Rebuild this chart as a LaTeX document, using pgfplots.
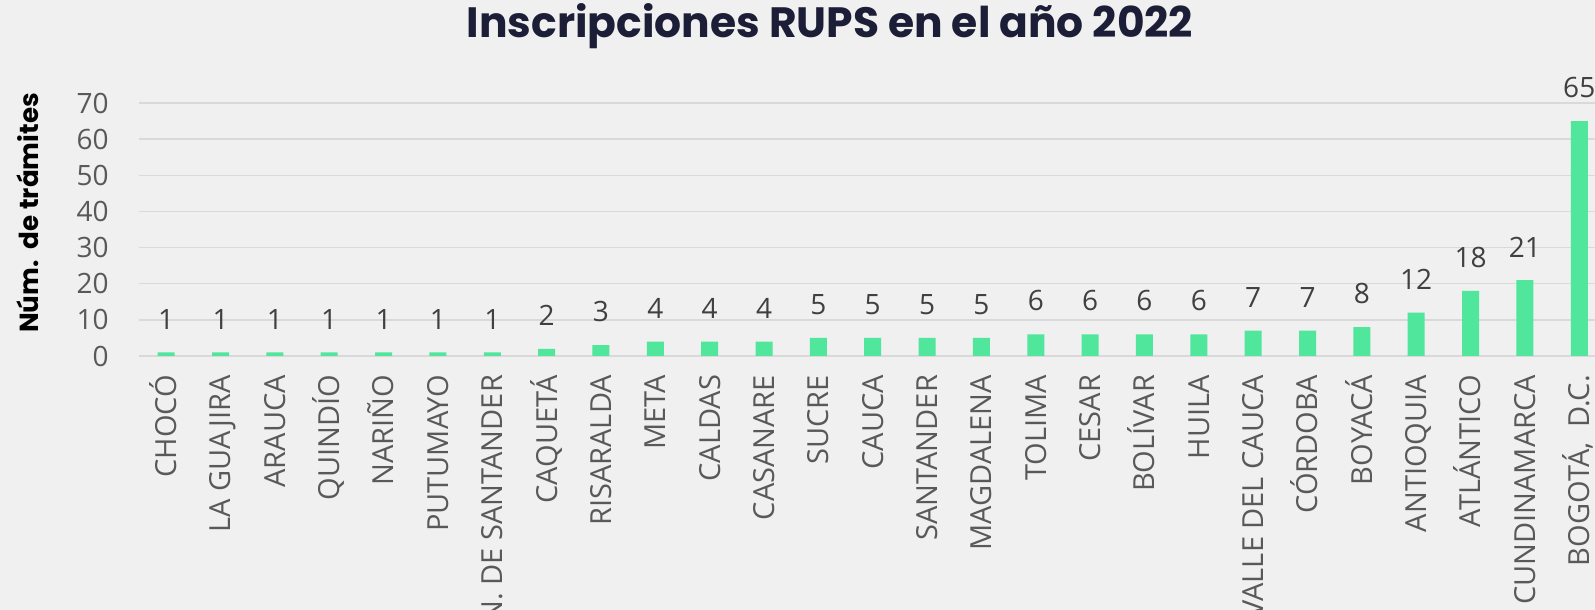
\documentclass[border=0pt]{standalone}
\usepackage{pgfplots}
\pgfplotsset{compat=1.18}
\usepackage{fontspec}
\setmainfont{Open Sans}
\newfontfamily\poppins{Poppins}
\definecolor{bg}{HTML}{F0F0F0}
\definecolor{barc}{HTML}{50E69C}
\definecolor{gridc}{HTML}{D9D9D9}
\definecolor{tickc}{HTML}{595959}
\definecolor{labc}{HTML}{404040}
\definecolor{titc}{HTML}{1B1E36}
\begin{document}
\begin{tikzpicture}
\fill[bg] (0,0) rectangle (797.5pt,305pt);
\clip (0,0) rectangle (797.5pt,305pt);
\node[anchor=base, font=\poppins\bfseries\fontsize{21.2}{24}\selectfont, text=titc] at (415pt,286.2pt) {Inscripciones RUPS en el año 2022};
\node[rotate=90, font=\poppins\bfseries\fontsize{13.1}{15}\selectfont, text=black] at (13.75pt,198.5pt) {Núm.\ \ de trámites};
\begin{axis}[
  at={(69.5pt,127pt)}, anchor=south west,
  scale only axis, width=728pt, height=126.5pt,
  xmin=-0.5, xmax=26.29, ymin=0, ymax=70,
  axis line style={draw=none},
  ytick={0,10,...,70},
  ymajorgrids, grid style={gridc, line width=0.75pt},
  major tick length=0pt,
  xtick={0,...,26},
  xticklabels={CHOCÓ,LA GUAJIRA,ARAUCA,QUINDÍO,NARIÑO,PUTUMAYO,N. DE SANTANDER,CAQUETÁ,RISARALDA,META,CALDAS,CASANARE,SUCRE,CAUCA,SANTANDER,MAGDALENA,TOLIMA,CESAR,BOLÍVAR,HUILA,VALLE DEL CAUCA,CÓRDOBA,BOYACÁ,ANTIOQUIA,ATLÁNTICO,CUNDINAMARCA,{BOGOTÁ,\ \ D.C.}},
  xticklabel style={rotate=90, anchor=east, font=\fontsize{14.5}{17}\selectfont, text=tickc, text height=10.4pt, text depth=0pt, xshift=-6pt},
  yticklabel style={font=\fontsize{14}{16}\selectfont, text=tickc, xshift=-11.7pt},
  /pgf/number format/assume math mode=true,
  ybar, bar width=8.5pt,
  nodes near coords,
  every node near coord/.append style={font=\fontsize{14}{16}\selectfont, text=labc, yshift=8pt},
  clip=false,
]
\addplot[fill=barc, draw=none] coordinates {
(0,1) (1,1) (2,1) (3,1) (4,1) (5,1) (6,1) (7,2) (8,3) (9,4) (10,4) (11,4) (12,5) (13,5) (14,5) (15,5) (16,6) (17,6) (18,6) (19,6) (20,7) (21,7) (22,8) (23,12) (24,18) (25,21) (26,65)
};
\end{axis}
\end{tikzpicture}
\end{document}
